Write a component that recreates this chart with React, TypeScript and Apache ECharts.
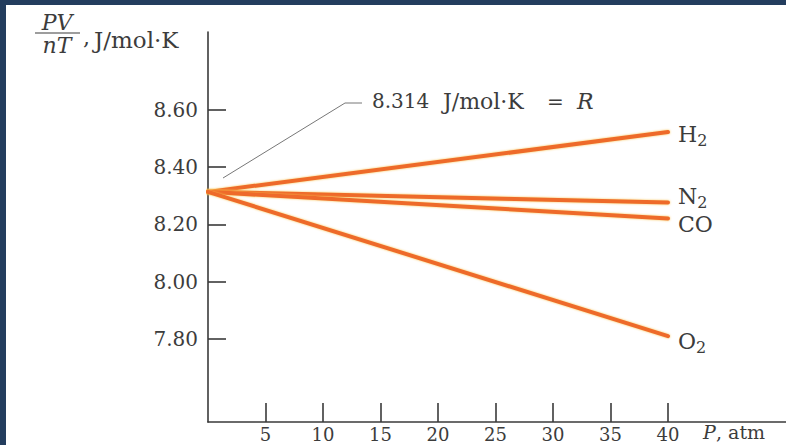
import React, { useEffect, useRef } from "react";
import * as echarts from "echarts";

const pressures = [0, 40];
const h2Values = [8.314, 8.523];
const n2Values = [8.314, 8.277];
const coValues = [8.314, 8.221];
const o2Values = [8.314, 7.81];
const xTicks = [5, 10, 15, 20, 25, 30, 35, 40];
const yTicks = [7.8, 8.0, 8.2, 8.4, 8.6];

const FONT = "DejaVu Serif";
const TEXT = "#3c3c3c";
const LINE = "#EE6A2A";

function makeSeries(name: string, main: string, sub: string, values: number[], dy: number) {
  return {
    type: "line",
    name,
    data: pressures.map((p, i) => [p, values[i]]),
    showSymbol: false,
    symbol: "none",
    lineStyle: { color: LINE, width: 4, cap: "round", shadowColor: "rgba(247,190,70,0.9)", shadowBlur: 2 },
    endLabel: {
      show: true,
      distance: 10,
      offset: [0, dy],
      formatter: sub ? `{a|${main}}{b|${sub}}` : `{a|${main}}`,
      rich: {
        a: { fontFamily: FONT, fontSize: 22, color: TEXT },
        b: { fontFamily: FONT, fontSize: 16, color: TEXT, padding: [12, 0, 0, 0] },
      },
    },
    z: 3,
  };
}

export default function App() {
  const ref = useRef<HTMLDivElement>(null);
  useEffect(() => {
    if (!ref.current) return;
    const chart = echarts.init(ref.current, undefined, { renderer: "svg" });
    const txt = (text: string, x: number, y: number, size: number, italic = false, align = "left") => ({
      type: "text",
      x,
      y,
      silent: true,
      style: {
        text,
        fontFamily: FONT,
        fontStyle: italic ? "italic" : "normal",
        fontSize: size,
        fill: TEXT,
        align,
        verticalAlign: "middle",
      },
    });
    chart.setOption({
      animation: false,
      grid: { left: 208, top: 32, right: 0, bottom: 23 },
      xAxis: {
        type: "value",
        min: 0,
        max: 50.26,
        axisLine: { show: true, lineStyle: { color: "#3a3a3a", width: 1.6 } },
        axisTick: { show: true, inside: true, length: 19, customValues: xTicks, lineStyle: { color: "#3a3a3a", width: 1.6 } },
        axisLabel: { customValues: xTicks, fontFamily: FONT, fontSize: 18, color: TEXT, margin: 3 },
        splitLine: { show: false },
      },
      yAxis: {
        type: "value",
        min: 7.51,
        max: 8.8725,
        axisLine: { show: true, lineStyle: { color: "#3a3a3a", width: 1.6 } },
        axisTick: { show: true, inside: true, length: 18, customValues: yTicks, lineStyle: { color: "#3a3a3a", width: 1.6 } },
        axisLabel: {
          customValues: yTicks,
          fontFamily: FONT,
          fontSize: 20,
          color: TEXT,
          margin: 10,
          formatter: (v: number) => v.toFixed(2),
        },
        splitLine: { show: false },
      },
      series: [
        makeSeries("H2", "H", "2", h2Values, 2),
        makeSeries("N2", "N", "2", n2Values, -6),
        makeSeries("CO", "CO", "", coValues, 6),
        makeSeries("O2", "O", "2", o2Values, 5),
      ],
      graphic: [
        {
          type: "polyline",
          shape: { points: [[223, 178], [345, 103], [362, 103]] },
          style: { stroke: "#777", lineWidth: 1, fill: null },
          silent: true,
        },
        txt("8.314", 372, 101, 20),
        txt("J/mol·K", 443, 101, 22),
        txt("=", 547, 102, 20),
        txt("R", 577, 101, 22, true),
        txt("PV", 57, 22, 22, true, "center"),
        {
          type: "line",
          shape: { x1: 35, y1: 33, x2: 80, y2: 33 },
          style: { stroke: TEXT, lineWidth: 1.2 },
        },
        txt("nT", 57, 45, 22, true, "center"),
        txt(",", 83, 37, 22),
        txt("J/mol·K", 94, 40, 23),
        txt("P", 703, 432, 19, true),
        txt(", atm", 716, 432, 19),
      ],
    });
    return () => chart.dispose();
  }, []);

  return (
    <div style={{ position: "absolute", left: 0, top: 0, width: 786, height: 445, background: "#233D5E", overflow: "hidden" }}>
      <div style={{ position: "absolute", left: 6, top: 5, right: 0, bottom: 0, background: "#ffffff" }} />
      <div ref={ref} style={{ position: "absolute", left: 0, top: 0, width: 786, height: 445 }} />
    </div>
  );
}
